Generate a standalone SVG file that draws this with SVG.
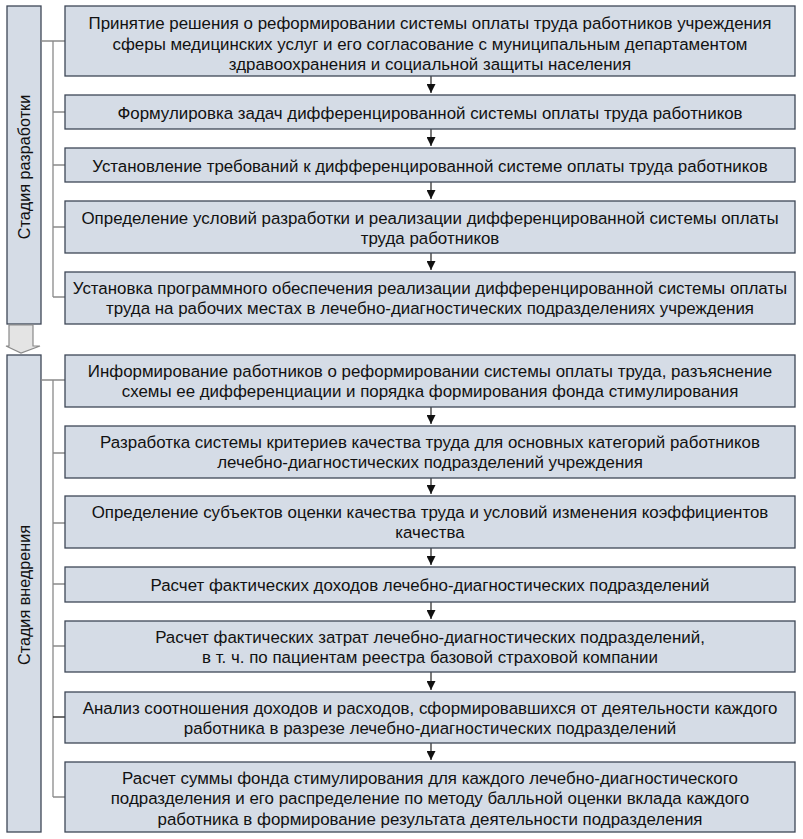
<svg xmlns="http://www.w3.org/2000/svg" width="803" height="839" viewBox="0 0 803 839">
<style>
.box{fill:#d5dce6;stroke:#3e4757;stroke-width:1.3}
.t{font-family:"Liberation Sans",Arial,sans-serif;font-size:16.9px;fill:#111;text-anchor:middle}
.s{font-size:16.2px}
.c{fill:none;stroke:#8a8a8a;stroke-width:1.3}
.a{stroke:#222;stroke-width:1.2}
</style>
<defs>
<marker id="ah" markerWidth="10" markerHeight="9" refX="9" refY="4.5" orient="auto" markerUnits="userSpaceOnUse">
<path d="M0,0 L9,4.5 L0,9 Z" fill="#111"/>
</marker>
</defs>
<rect width="803" height="839" fill="#fff"/>

<g id="stage1">
<rect class="box" x="7" y="6" width="34" height="318"/>
<text class="t s" transform="translate(30,167) rotate(-90)">Стадия разработки</text>
</g>
<g id="stage-arrow">
<path d="M9,325 H33 V346 H40 L21,353 L6,346 H9 Z" fill="#e4e4e4" stroke="#8a8a8a" stroke-width="1.2"/>
</g>
<g id="stage2">
<rect class="box" x="7" y="355" width="34" height="477"/>
<text class="t s" transform="translate(30,595) rotate(-90)">Стадия внедрения</text>
</g>

<g id="connectors">
<path class="c" d="M41,41 H65 M53,41 V297 M53,112 H65 M53,165 H65 M53,227 H65 M53,297 H65"/>
<path class="c" d="M41,380 H65 M53,380 V797 M53,453 H65 M53,523 H65 M53,584 H65 M53,646 H65 M53,797 H65"/>
<path d="M53,717 H65" stroke="#222" stroke-width="1.3"/>
<g class="a" marker-end="url(#ah)">
<line x1="431" y1="76" x2="431" y2="93"/>
<line x1="431" y1="129" x2="431" y2="146"/>
<line x1="431" y1="182" x2="431" y2="199"/>
<line x1="431" y1="253" x2="431" y2="270"/>
<line x1="431" y1="407" x2="431" y2="424"/>
<line x1="431" y1="478" x2="431" y2="494"/>
<line x1="431" y1="548" x2="431" y2="565"/>
<line x1="431" y1="602" x2="431" y2="619"/>
<line x1="431" y1="672" x2="431" y2="690"/>
<line x1="431" y1="743" x2="431" y2="760"/>
</g>
</g>

<g id="n1">
<rect class="box" x="65" y="6" width="730" height="70"/>
<text class="t" x="430" y="29">Принятие решения о реформировании системы оплаты труда работников учреждения</text>
<text class="t" x="430" y="49.5">сферы медицинских услуг и его согласование с муниципальным департаментом</text>
<text class="t" x="430" y="70">здравоохранения и социальной защиты населения</text>
</g>
<g id="n2">
<rect class="box" x="65" y="95" width="730" height="34"/>
<text class="t" x="430" y="118.5">Формулировка задач дифференцированной системы оплаты труда работников</text>
</g>
<g id="n3">
<rect class="box" x="65" y="148" width="730" height="34"/>
<text class="t" x="430" y="171.5">Установление требований к дифференцированной системе оплаты труда работников</text>
</g>
<g id="n4">
<rect class="box" x="65" y="201" width="730" height="52"/>
<text class="t" x="430" y="223.5">Определение условий разработки и реализации дифференцированной системы оплаты</text>
<text class="t" x="430" y="244">труда работников</text>
</g>
<g id="n5">
<rect class="box" x="65" y="272" width="730" height="52"/>
<text class="t" x="430" y="293.5">Установка программного обеспечения реализации дифференцированной системы оплаты</text>
<text class="t" x="430" y="314">труда на рабочих местах в лечебно-диагностических подразделениях учреждения</text>
</g>
<g id="n6">
<rect class="box" x="65" y="355" width="730" height="52"/>
<text class="t" x="430" y="376.5">Информирование работников о реформировании системы оплаты труда, разъяснение</text>
<text class="t" x="430" y="397">схемы ее дифференциации и порядка формирования фонда стимулирования</text>
</g>
<g id="n7">
<rect class="box" x="65" y="426" width="730" height="52"/>
<text class="t" x="430" y="447.5">Разработка системы критериев качества труда для основных категорий работников</text>
<text class="t" x="430" y="468">лечебно-диагностических подразделений учреждения</text>
</g>
<g id="n8">
<rect class="box" x="65" y="496" width="730" height="52"/>
<text class="t" x="430" y="517.5">Определение субъектов оценки качества труда и условий изменения коэффициентов</text>
<text class="t" x="430" y="538">качества</text>
</g>
<g id="n9">
<rect class="box" x="65" y="567" width="730" height="35"/>
<text class="t" x="430" y="590.5">Расчет фактических доходов лечебно-диагностических подразделений</text>
</g>
<g id="n10">
<rect class="box" x="65" y="621" width="730" height="51"/>
<text class="t" x="430" y="642.5">Расчет фактических затрат лечебно-диагностических подразделений,</text>
<text class="t" x="430" y="663">в т. ч. по пациентам реестра базовой страховой компании</text>
</g>
<g id="n11">
<rect class="box" x="65" y="692" width="730" height="51"/>
<text class="t" x="430" y="713.5">Анализ соотношения доходов и расходов, сформировавшихся от деятельности каждого</text>
<text class="t" x="430" y="734">работника в разрезе лечебно-диагностических подразделений</text>
</g>
<g id="n12">
<rect class="box" x="65" y="762" width="730" height="70"/>
<text class="t" x="430" y="783.5">Расчет суммы фонда стимулирования для каждого лечебно-диагностического</text>
<text class="t" x="430" y="804">подразделения и его распределение по методу балльной оценки вклада каждого</text>
<text class="t" x="430" y="824.5">работника в формирование результата деятельности подразделения</text>
</g>
</svg>
